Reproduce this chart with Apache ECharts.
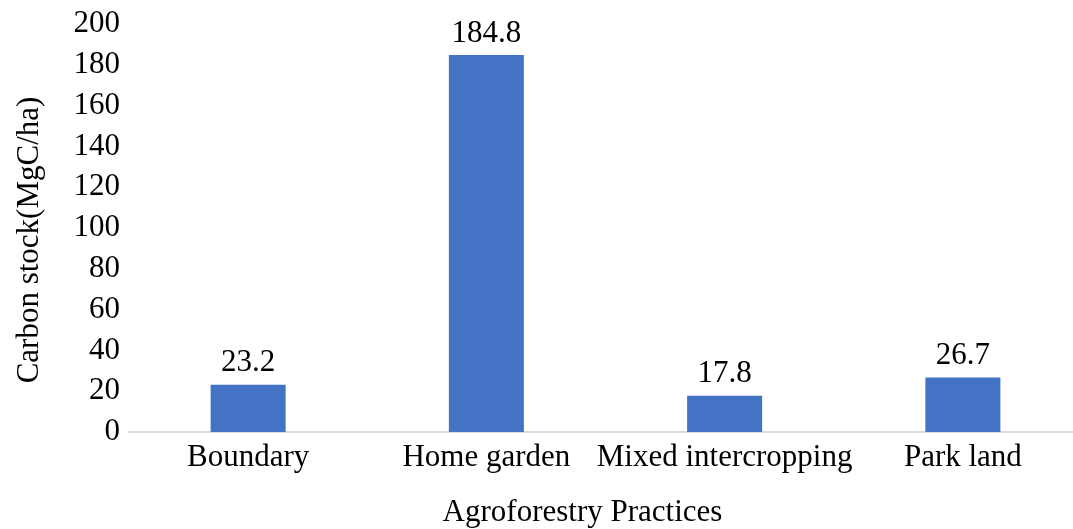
<!DOCTYPE html>
<html>
<head>
<meta charset="utf-8">
<script src="https://cdn.jsdelivr.net/npm/echarts@6/dist/echarts.min.js"></script>
<style>
  html, body { margin: 0; padding: 0; background: #fff; }
  #chart { width: 1073px; height: 529px; }
</style>
</head>
<body>
<div id="chart"></div>
<script>
// Carbon stock by agroforestry practice
const categories = ['Boundary', 'Home garden', 'Mixed intercropping', 'Park land'];
const carbonStock = [23.2, 184.8, 17.8, 26.7];
const yTicks = { min: 0, max: 200, interval: 20 };

const font = '"Liberation Serif", "Times New Roman", serif';
const chart = echarts.init(document.getElementById('chart'));

chart.setOption({
  animation: false,
  backgroundColor: '#ffffff',
  grid: { left: 129, top: 24, width: 953, height: 408, containLabel: false, outerBoundsMode: 'none' },
  xAxis: {
    type: 'category',
    data: categories,
    name: 'Agroforestry Practices',
    nameLocation: 'middle',
    nameGap: 65,
    nameTextStyle: { fontFamily: font, fontSize: 31, color: '#000', padding: [0, 46, 0, 0] },
    axisLine: { lineStyle: { color: '#d9d9d9', width: 2 } },
    axisTick: { show: false },
    axisLabel: { fontFamily: font, fontSize: 31, color: '#000', margin: 10, interval: 0 }
  },
  yAxis: {
    type: 'value',
    min: yTicks.min,
    max: yTicks.max,
    interval: yTicks.interval,
    name: 'Carbon stock(MgC/ha)',
    nameLocation: 'middle',
    nameGap: 84,
    nameTextStyle: { fontFamily: font, fontSize: 31, color: '#000', padding: [0, 24, 0, 0] },
    axisLine: { show: false },
    axisTick: { show: false },
    splitLine: { show: false },
    axisLabel: { fontFamily: font, fontSize: 31, color: '#000', margin: 9 }
  },
  series: [{
    type: 'bar',
    data: carbonStock,
    barWidth: 75,
    itemStyle: { color: '#4472C4' },
    label: {
      show: true,
      position: 'top',
      distance: 6,
      fontFamily: font,
      fontSize: 31,
      color: '#000',
      formatter: p => p.value.toFixed(1)
    }
  }]
});
</script>
</body>
</html>
